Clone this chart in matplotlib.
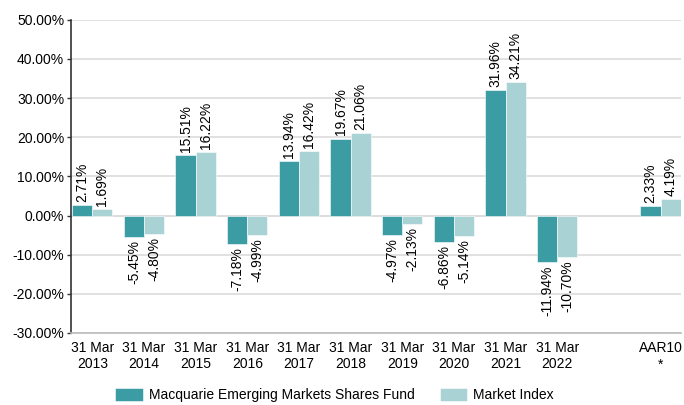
import numpy as np
import matplotlib.pyplot as plt
import matplotlib

matplotlib.rcParams['font.family'] = ['Liberation Sans', 'DejaVu Sans']
matplotlib.rcParams['font.size'] = 10

categories = ['31 Mar\n2013', '31 Mar\n2014', '31 Mar\n2015', '31 Mar\n2016', '31 Mar\n2017',
              '31 Mar\n2018', '31 Mar\n2019', '31 Mar\n2020', '31 Mar\n2021', '31 Mar\n2022',
              '', 'AAR10\n*']
fund = [2.71, -5.45, 15.51, -7.18, 13.94, 19.67, -4.97, -6.86, 31.96, -11.94, None, 2.33]
index = [1.69, -4.80, 16.22, -4.99, 16.42, 21.06, -2.13, -5.14, 34.21, -10.70, None, 4.19]
series_names = ['Macquarie Emerging Markets Shares Fund', 'Market Index']
colors = ['#3b9ca3', '#a9d2d5']

fig = plt.figure(figsize=(6.84, 4.05), dpi=100)
ax = fig.add_axes([0.104, 0.178, 0.892, 0.773])

x = np.arange(len(categories))
w = 0.39
for vals, off, col, name in [(fund, -w/2, colors[0], series_names[0]),
                             (index, w/2, colors[1], series_names[1])]:
    xs = [xi + off for xi, v in zip(x, vals) if v is not None]
    vs = [v for v in vals if v is not None]
    ax.bar(xs, vs, width=w, color=col, label=name, edgecolor='white', linewidth=0.4, zorder=3)
    for xi, v in zip(xs, vs):
        if v >= 0:
            ax.text(xi, v + 0.8, f'{v:.2f}%', rotation=90, ha='center', va='bottom', fontsize=10)
        else:
            ax.text(xi, v - 0.8, f'{v:.2f}%', rotation=90, ha='center', va='top', fontsize=10)

ax.set_ylim(-30, 50)
ax.set_yticks(np.arange(-30, 51, 10))
ax.set_yticklabels([f'{t:.2f}%' for t in np.arange(-30, 51, 10)])
ax.set_xlim(-0.41, 11.4)
ax.set_xticks(x)
ax.set_xticklabels(categories)
ax.tick_params(axis='x', length=0, pad=6)
ax.tick_params(axis='y', length=3, width=1, color='#333333', pad=2)
ax.grid(axis='y', color='#dcdcdc', linewidth=1.2, zorder=0)
ax.axhline(0, color='#dcdcdc', linewidth=1.2, zorder=1)
for s in ['top', 'right']:
    ax.spines[s].set_visible(False)
ax.spines['left'].set_color('#333333')
ax.spines['left'].set_linewidth(1.2)
ax.spines['bottom'].set_color('#bbbbbb')
ax.spines['bottom'].set_linewidth(1.2)

fig.legend(loc='lower center', ncol=2, frameon=False, bbox_to_anchor=(0.489, -0.024),
           handlelength=1.95, handleheight=1.0, handletextpad=0.45, columnspacing=1.8,
           fontsize=10)

fig.savefig('out.png', dpi=100)
